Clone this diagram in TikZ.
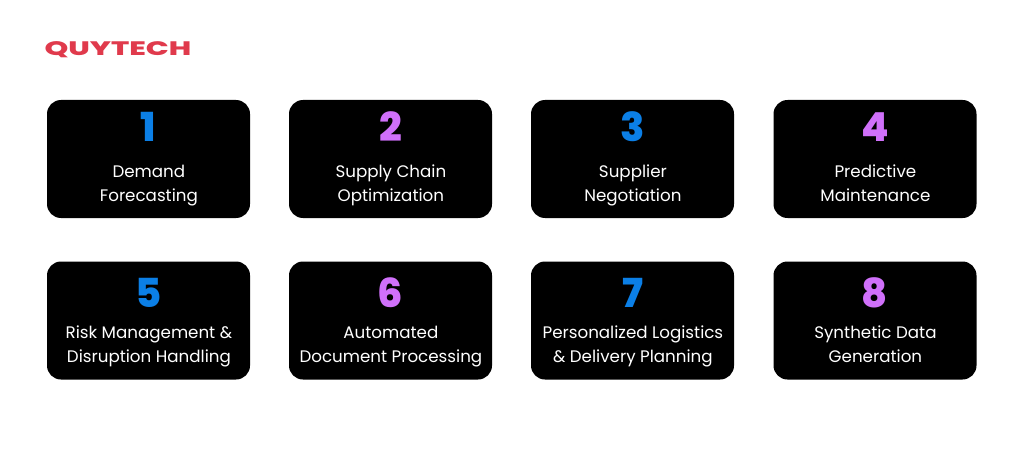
\documentclass[tikz,border=0pt]{standalone}
\usepackage{fontspec}
\setmainfont{Poppins}
\newfontfamily\heavyfont{Poppins ExtraBold}
\newcommand{\lst}{\rule[-7pt]{0pt}{24pt}}
\definecolor{numblue}{HTML}{0B7FE6}
\definecolor{numpurple}{HTML}{D070FA}
\definecolor{logored}{HTML}{E03A4C}
\tikzset{
 card/.style={fill=black,draw=none,rounded corners=14pt,minimum width=203pt,minimum height=118pt,inner sep=0pt},
 num/.style={font=\fontsize{40}{40}\heavyfont,anchor=base,inner sep=0pt},
 lab/.style={font=\fontsize{16.7}{24}\selectfont,text=white,align=center,anchor=center,inner sep=0pt},
}
\begin{document}
\begin{tikzpicture}[x=1pt,y=-1pt]
\useasboundingbox (0,0) rectangle (1024,449);
\fill[white] (0,0) rectangle (1024,449);
\node[font=\fontsize{19.5}{20}\heavyfont,text=logored,inner sep=0pt,anchor=center,xscale=1.55] (logo) at (118,50) {QUYTECH};
\foreach \n/\x/\y/\ny/\ty/\c/\tone/\ttwo in {
 1/148.5/159/142/184/numblue/{Demand}/{Forecasting},
 2/390.5/159/142/184/numpurple/{Supply Chain}/{Optimization},
 3/632.5/159/142/184/numblue/{Supplier}/{Negotiation},
 4/875/159/142/184/numpurple/{Predictive}/{Maintenance},
 5/148.5/320.5/307.5/345.5/numblue/{Risk Management \&}/{Disruption Handling},
 6/390.5/320.5/307.5/345.5/numpurple/{Automated}/{Document Processing},
 7/632.5/320.5/307.5/345.5/numblue/{Personalized Logistics}/{\& Delivery Planning},
 8/875/320.5/307.5/345.5/numpurple/{Synthetic Data}/{Generation}}{
 \node[card] (c\n) at (\x,\y) {};
 \node[num,text=\c] (n\n) at (\x,\ny) {\n};
 \node[lab] (t\n) at (\x+0.4,\ty) {\lst\tone\\\lst\ttwo};
}
\end{tikzpicture}
\end{document}
